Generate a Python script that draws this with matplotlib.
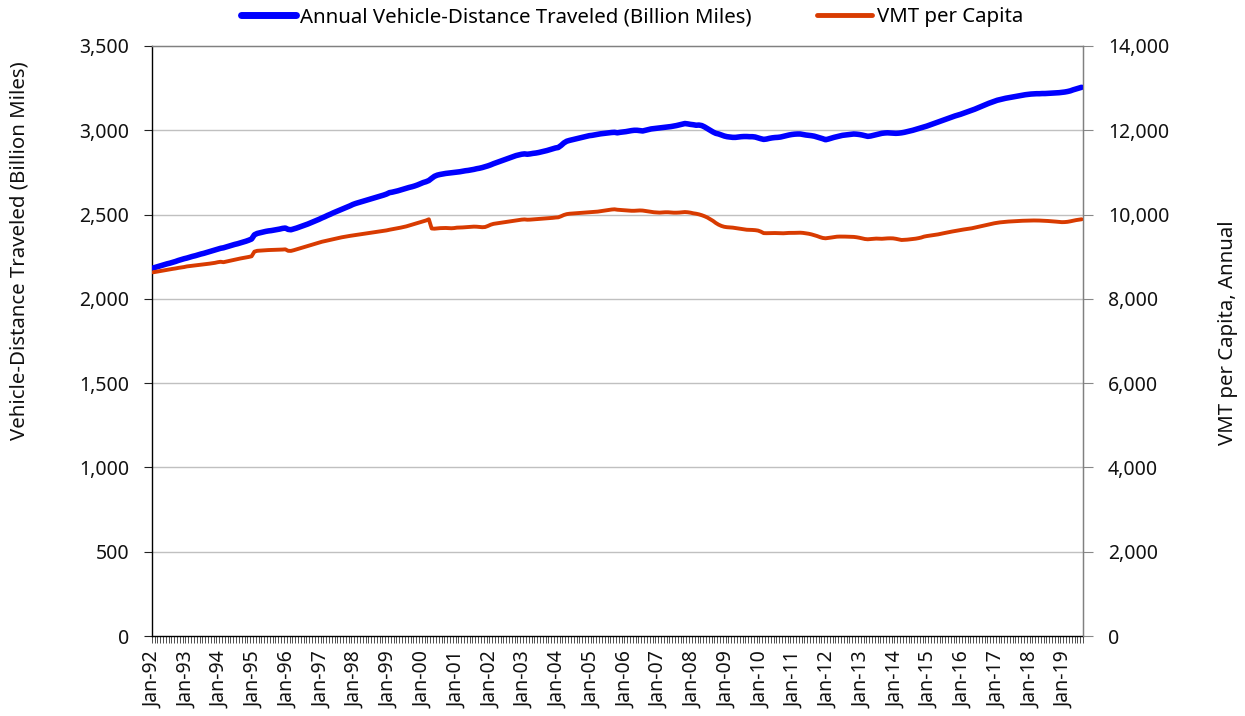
import matplotlib
matplotlib.use("Agg")
import matplotlib.pyplot as plt
import numpy as np

plt.rcParams['font.family'] = ['Noto Sans', 'DejaVu Sans']

# Monthly data, Jan-1992 .. Jul-2019
vmt_billion = [
    2183, 2188, 2193, 2198, 2203, 2208, 2212, 2217, 2222, 2228, 2233, 2238,  # 1992
    2242, 2247, 2252, 2256, 2261, 2266, 2270, 2275, 2280, 2285, 2290, 2295,  # 1993
    2300, 2303, 2308, 2313, 2318, 2323, 2327, 2332, 2337, 2342, 2348, 2355,  # 1994
    2380, 2388, 2392, 2396, 2400, 2403, 2405, 2408, 2411, 2414, 2418, 2420,  # 1995
    2412, 2410, 2415, 2420, 2426, 2432, 2438, 2444, 2451, 2458, 2465, 2472,  # 1996
    2480, 2487, 2495, 2502, 2510, 2517, 2524, 2531, 2538, 2545, 2552, 2560,  # 1997
    2566, 2571, 2576, 2581, 2586, 2591, 2596, 2601, 2606, 2611, 2616, 2622,  # 1998
    2630, 2633, 2637, 2641, 2646, 2651, 2656, 2661, 2665, 2670, 2676, 2683,  # 1999
    2690, 2695, 2702, 2715, 2727, 2734, 2738, 2741, 2744, 2746, 2748, 2750,  # 2000
    2752, 2754, 2757, 2760, 2762, 2765, 2768, 2772, 2775, 2779, 2784, 2789,  # 2001
    2795, 2802, 2808, 2814, 2820, 2826, 2832, 2838, 2844, 2850, 2854, 2858,  # 2002
    2860, 2858, 2860, 2863, 2865, 2868, 2872, 2876, 2880, 2885, 2890, 2895,  # 2003
    2898, 2910, 2925, 2935, 2940, 2944, 2948, 2952, 2956, 2960, 2964, 2968,  # 2004
    2970, 2973, 2976, 2979, 2981, 2983, 2985, 2987, 2988, 2985, 2988, 2990,  # 2005
    2992, 2995, 2998, 3000, 3000, 2998, 2996, 3000, 3004, 3008, 3010, 3012,  # 2006
    3014, 3016, 3018, 3020, 3022, 3025, 3028, 3032, 3036, 3040, 3038, 3035,  # 2007
    3033, 3030, 3031, 3028, 3020, 3010, 3000, 2990, 2982, 2978, 2972, 2966,  # 2008
    2962, 2960, 2958, 2958, 2960, 2962, 2963, 2963, 2962, 2962, 2960, 2955,  # 2009
    2950, 2946, 2948, 2952, 2955, 2957, 2958, 2960, 2964, 2968, 2972, 2975,  # 2010
    2977, 2978, 2978, 2975, 2972, 2970, 2968, 2965, 2960, 2955, 2950, 2944,  # 2011
    2948, 2953, 2958, 2962, 2966, 2970, 2972, 2974, 2976, 2978, 2977, 2975,  # 2012
    2972, 2968, 2964, 2966, 2970, 2974, 2978, 2982, 2984, 2985, 2984, 2983,  # 2013
    2982, 2983, 2985, 2988, 2992, 2996, 3000, 3005, 3010, 3015, 3020, 3025,  # 2014
    3031, 3037, 3043, 3049, 3055, 3061, 3067, 3073, 3079, 3085, 3090, 3095,  # 2015
    3101, 3107, 3113, 3119, 3125, 3132, 3139, 3146, 3153, 3160, 3166, 3172,  # 2016
    3178, 3182, 3186, 3190, 3193, 3196, 3199, 3202, 3205, 3208, 3211, 3213,  # 2017
    3215, 3216, 3217, 3217, 3218, 3218, 3219, 3220, 3221, 3222, 3223, 3225,  # 2018
    3227, 3230, 3234, 3240, 3245, 3250, 3255,                                # 2019
]

vmt_per_capita = [
    8630, 8642, 8654, 8666, 8677, 8688, 8700, 8712, 8722, 8735, 8745, 8755,  # 1992
    8770, 8778, 8786, 8794, 8802, 8810, 8818, 8826, 8835, 8845, 8855, 8870,  # 1993
    8880, 8870, 8885, 8900, 8915, 8930, 8945, 8958, 8970, 8982, 8995, 9010,  # 1994
    9120, 9140, 9145, 9150, 9155, 9158, 9160, 9163, 9166, 9168, 9170, 9175,  # 1995
    9140, 9138, 9155, 9175, 9195, 9215, 9235, 9255, 9275, 9295, 9315, 9335,  # 1996
    9355, 9370, 9385, 9400, 9415, 9430, 9445, 9460, 9472, 9485, 9495, 9505,  # 1997
    9515, 9525, 9535, 9545, 9555, 9565, 9575, 9585, 9595, 9605, 9615, 9625,  # 1998
    9640, 9652, 9664, 9676, 9690, 9705, 9720, 9740, 9760, 9780, 9800, 9820,  # 1999
    9840, 9860, 9888, 9670, 9665, 9672, 9678, 9680, 9682, 9678, 9675, 9680,  # 2000
    9690, 9692, 9695, 9700, 9705, 9710, 9714, 9712, 9705, 9700, 9705, 9730,  # 2001
    9760, 9780, 9790, 9800, 9810, 9820, 9830, 9840, 9850, 9860, 9870, 9880,  # 2002
    9885, 9878, 9880, 9885, 9890, 9895, 9900, 9905, 9910, 9915, 9922, 9930,  # 2003
    9935, 9960, 9990, 10010, 10020, 10025, 10030, 10035, 10040, 10045, 10050, 10055,  # 2004
    10060, 10065, 10070, 10080, 10090, 10100, 10110, 10120, 10125, 10115, 10110, 10105,  # 2005
    10100, 10095, 10090, 10090, 10095, 10098, 10095, 10085, 10075, 10065, 10055, 10050,  # 2006
    10046, 10050, 10055, 10055, 10050, 10045, 10045, 10048, 10055, 10060, 10055, 10045,  # 2007
    10030, 10020, 10005, 9985, 9960, 9930, 9890, 9850, 9800, 9760, 9730, 9710,  # 2008
    9700, 9695, 9690, 9680, 9670, 9660, 9650, 9640, 9638, 9635, 9630, 9620,  # 2009
    9595, 9560, 9558, 9560, 9562, 9562, 9560, 9558, 9556, 9560, 9565, 9565,  # 2010
    9566, 9568, 9570, 9565, 9555, 9545, 9530, 9510, 9490, 9465, 9445, 9437,  # 2011
    9445, 9455, 9465, 9475, 9478, 9478, 9477, 9475, 9472, 9470, 9462, 9450,  # 2012
    9435, 9420, 9414, 9420, 9425, 9430, 9428, 9425, 9430, 9435, 9437, 9435,  # 2013
    9425, 9410, 9397, 9400, 9405, 9412, 9420, 9428, 9440, 9455, 9477, 9490,  # 2014
    9500, 9510, 9520, 9530, 9545, 9558, 9572, 9585, 9598, 9610, 9622, 9635,  # 2015
    9645, 9655, 9665, 9675, 9690, 9705, 9720, 9735, 9750, 9765, 9780, 9794,  # 2016
    9805, 9815, 9822, 9828, 9834, 9838, 9842, 9846, 9850, 9853, 9855, 9856,  # 2017
    9858, 9860, 9860, 9858, 9855, 9852, 9848, 9843, 9838, 9832, 9825, 9820,  # 2018
    9822, 9828, 9840, 9855, 9868, 9878, 9888,                                # 2019
]

year_labels = ["Jan-92", "Jan-93", "Jan-94", "Jan-95", "Jan-96", "Jan-97", "Jan-98",
               "Jan-99", "Jan-00", "Jan-01", "Jan-02", "Jan-03", "Jan-04", "Jan-05",
               "Jan-06", "Jan-07", "Jan-08", "Jan-09", "Jan-10", "Jan-11", "Jan-12",
               "Jan-13", "Jan-14", "Jan-15", "Jan-16", "Jan-17", "Jan-18", "Jan-19"]

left_ticks = [0, 500, 1000, 1500, 2000, 2500, 3000, 3500]
right_ticks = [0, 2000, 4000, 6000, 8000, 10000, 12000, 14000]

n = len(vmt_billion)
x = np.arange(n)

W, H = 1245, 716
fig = plt.figure(figsize=(W / 100, H / 100), dpi=100)
L, R, T, B = 151.7, 1083, 46, 636
ax = fig.add_axes([L / W, 1 - B / H, (R - L) / W, (B - T) / H])
ax2 = ax.twinx()

blue = '#0000FF'
red = '#D83B01'
l1, = ax.plot(x, vmt_billion, color=blue, lw=4.0, solid_capstyle='round',
              solid_joinstyle='round',
              label='Annual Vehicle-Distance Traveled (Billion Miles)', zorder=3)
l2, = ax2.plot(x, vmt_per_capita, color=red, lw=2.8, solid_capstyle='round',
               solid_joinstyle='round', label='VMT per Capita', zorder=3)

ax.set_xlim(-0.5, n - 0.5)
ax.set_ylim(0, 3500)
ax2.set_ylim(0, 14000)

ax.set_yticks(left_ticks)
ax.set_yticklabels([f"{v:,}" for v in left_ticks])
ax2.set_yticks(right_ticks)
ax2.set_yticklabels([f"{v:,}" for v in right_ticks])

# gridlines
for v in left_ticks[1:-1]:
    ax.axhline(v, color='#C0C0C0', lw=1.0, zorder=1)

# x ticks: labels at Jan positions, minor ticks at month boundaries
ax.set_xticks(np.arange(0, n, 12))
ax.set_xticklabels(year_labels, rotation=90)
ax.set_xticks(np.arange(-0.5, n, 1), minor=True)
ax.tick_params(axis='x', which='major', length=0, pad=11, labelsize=14, colors='#111111')
ax.tick_params(axis='x', which='minor', length=5, width=0.6, color='#333333')

ax.tick_params(axis='y', which='major', length=6, width=0.8, pad=10, labelsize=14,
               color='#222222', labelcolor='#111111')
ax2.tick_params(axis='y', which='major', length=7, width=0.8, pad=11, labelsize=14,
                color='#888888', labelcolor='#111111')

for s in ['left', 'bottom']:
    ax.spines[s].set_color('#000000')
    ax.spines[s].set_linewidth(1.0)
for s in ['top', 'right']:
    ax.spines[s].set_color('#808080')
    ax.spines[s].set_linewidth(1.0)
ax2.spines['right'].set_color('#808080')
ax2.spines['top'].set_color('#808080')
ax2.spines['left'].set_visible(False)
ax2.spines['bottom'].set_visible(False)

fig.text(20 / W, 1 - 251 / H, 'Vehicle-Distance Traveled (Billion Miles)', rotation=90,
         ha='center', va='center', fontsize=14.7, color='#111111')
fig.text(1228 / W, 1 - 333 / H, 'VMT per Capita, Annual', rotation=90,
         ha='center', va='center', fontsize=14.7, color='#111111')

leg = fig.legend(handles=[l1, l2], loc='center', bbox_to_anchor=(632 / W, 1 - 17 / H),
                 ncol=2, frameon=False, fontsize=14.7, handlelength=2.7,
                 handletextpad=0.2, columnspacing=3.2, borderaxespad=0)
for h, lw in zip(leg.get_lines(), [5, 3.5]):
    h.set_linewidth(lw)

fig.savefig('out.png', dpi=100)
